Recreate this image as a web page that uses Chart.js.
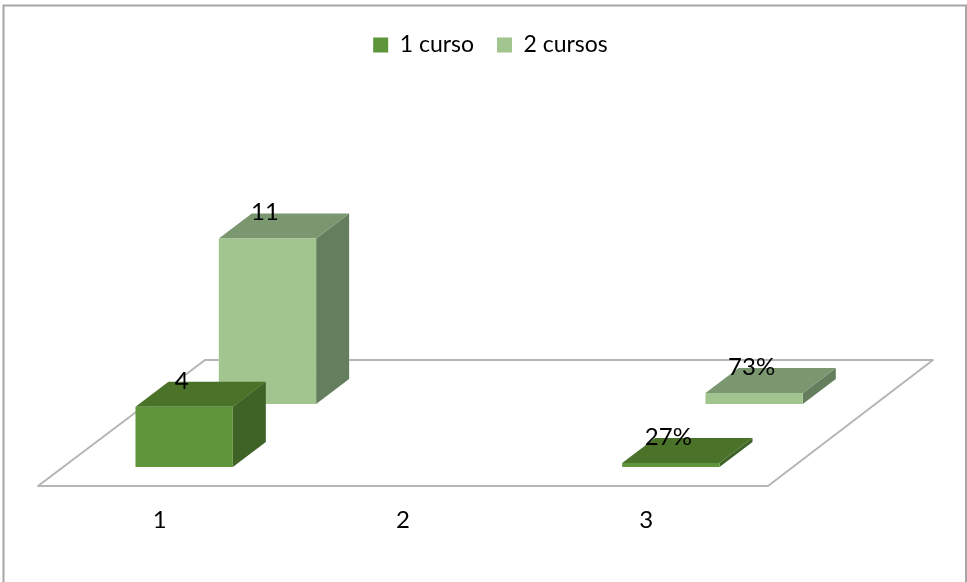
<!DOCTYPE html>
<html>
<head>
	<meta http-equiv="Content-Type" content="text/html; charset=utf-8"/>
	<script type="text/javascript" src="https://cdn.jsdelivr.net/npm/chart.js@4/dist/chart.umd.min.js"></script>
	<style type="text/css">
		html, body { margin: 0; padding: 0; background: #fff; overflow: hidden; }
		#demo { position: absolute; left: 0; top: 0; width: 967px; height: 582px; }
	</style>
</head>
<body>
	<div id="demo">
		<canvas id="chart" width="967" height="582"></canvas>
	</div>
	<script type="text/javascript">
		var categorias = ["1", "2", "3"];
		var unCurso = [4, null, 0.27];
		var dosCursos = [11, null, 0.73];
		var etiquetasUnCurso = ["4", "", "27%"];
		var etiquetasDosCursos = ["11", "", "73%"];

		var FUENTE = "Lato, 'Open Sans', sans-serif";
		var TAM_FUENTE = 24;
		// profundidad de cada barra y del suelo
		var BARRA_DX = 33, BARRA_DY = -25;
		var SUELO_DX = 165, SUELO_DY = -126;
		var FILAS = [{dx: 24.5, dy: -19}, {dx: 107.8, dy: -82}];
		var CARAS = [
			{top: "#4a7229", side: "#3f6326"},
			{top: "#7a9770", side: "#657f5e"}
		];
		var LEYENDA_DX = 87.5;

		function poligono(ctx, pts, color) {
			ctx.beginPath();
			ctx.moveTo(pts[0][0], pts[0][1]);
			for (var i = 1; i < pts.length; i++) ctx.lineTo(pts[i][0], pts[i][1]);
			ctx.closePath();
			ctx.fillStyle = color;
			ctx.fill();
		}

		var falso3d = {
			id: "falso3d",
			// la leyenda va centrada en el lienzo, no en el area de las barras
			afterLayout: function(chart) {
				chart.legend.left += LEYENDA_DX;
				chart.legend.right += LEYENDA_DX;
			},
			// mueve cada serie a su fila sobre el suelo
			afterDatasetUpdate: function(chart, args) {
				var fila = FILAS[args.index];
				args.meta.data.forEach(function(b) {
					b.x += fila.dx;
					b.y += fila.dy;
					b.base += fila.dy;
				});
			},
			beforeDraw: function(chart) {
				var ctx = chart.ctx;
				ctx.save();
				ctx.strokeStyle = "#a6a6a6";
				ctx.lineWidth = 2;
				ctx.beginPath();
				ctx.moveTo(3.5, 582);
				ctx.lineTo(3.5, 5.5);
				ctx.lineTo(966, 5.5);
				ctx.lineTo(966, 582);
				ctx.stroke();
				ctx.restore();
			},
			beforeDatasetsDraw: function(chart) {
				var ctx = chart.ctx, a = chart.chartArea;
				ctx.save();
				ctx.strokeStyle = "#b5b5b5";
				ctx.lineWidth = 2;
				ctx.lineJoin = "round";
				ctx.beginPath();
				ctx.moveTo(a.left, a.bottom);
				ctx.lineTo(a.right, a.bottom);
				ctx.lineTo(a.right + SUELO_DX, a.bottom + SUELO_DY);
				ctx.lineTo(a.left + SUELO_DX + 2, a.bottom + SUELO_DY);
				ctx.closePath();
				ctx.stroke();
				ctx.restore();
			},
			// caras superior y lateral de cada barra
			beforeDatasetDraw: function(chart, args) {
				var ctx = chart.ctx, cara = CARAS[args.index];
				var datos = chart.data.datasets[args.index].data;
				ctx.save();
				args.meta.data.forEach(function(b, j) {
					if (datos[j] === null) return;
					var l = b.x - b.width / 2, r = b.x + b.width / 2;
					poligono(ctx, [[r, b.y], [r + BARRA_DX, b.y + BARRA_DY], [r + BARRA_DX, b.base + BARRA_DY], [r, b.base]], cara.side);
					poligono(ctx, [[l, b.y], [l + BARRA_DX, b.y + BARRA_DY], [r + BARRA_DX, b.y + BARRA_DY], [r, b.y]], cara.top);
				});
				ctx.restore();
			},
			afterDatasetsDraw: function(chart) {
				var ctx = chart.ctx;
				ctx.save();
				ctx.font = TAM_FUENTE + "px " + FUENTE;
				ctx.fillStyle = "#000";
				ctx.textAlign = "center";
				ctx.textBaseline = "middle";
				[etiquetasUnCurso, etiquetasDosCursos].forEach(function(etiquetas, i) {
					chart.getDatasetMeta(i).data.forEach(function(b, j) {
						if (etiquetas[j]) ctx.fillText(etiquetas[j], b.x - 2.5, b.y - 26);
					});
				});
				ctx.restore();
			}
		};

		var canvas = document.getElementById("chart").getContext("2d");
		window.bar = new Chart(canvas, {
			type: "bar",
			data: {
				labels: categorias,
				datasets: [
					{label: "1 curso", data: unCurso, backgroundColor: "#5f963c", clip: false},
					{label: "2 cursos", data: dosCursos, backgroundColor: "#a2c48f", clip: false}
				]
			},
			options: {
				responsive: false,
				animation: false,
				layout: {padding: {left: 38, right: 199, top: 10.5, bottom: 0}},
				datasets: {bar: {grouped: false, categoryPercentage: 1, barPercentage: 0.4, borderWidth: 0}},
				plugins: {
					legend: {
						position: "top",
						labels: {
							boxWidth: 15,
							boxHeight: 15,
							padding: 23,
							color: "#000",
							font: {family: FUENTE, size: 23}
						}
					},
					tooltip: {enabled: false}
				},
				scales: {
					x: {
						grid: {display: false},
						border: {display: false},
						ticks: {color: "#000", padding: 12, font: {family: FUENTE, size: TAM_FUENTE}, maxRotation: 0},
						afterFit: function(scale) { scale.height = 96; }
					},
					y: {display: false, min: 0, max: 27.9}
				}
			},
			plugins: [falso3d]
		});
	</script>
</body>
</html>
